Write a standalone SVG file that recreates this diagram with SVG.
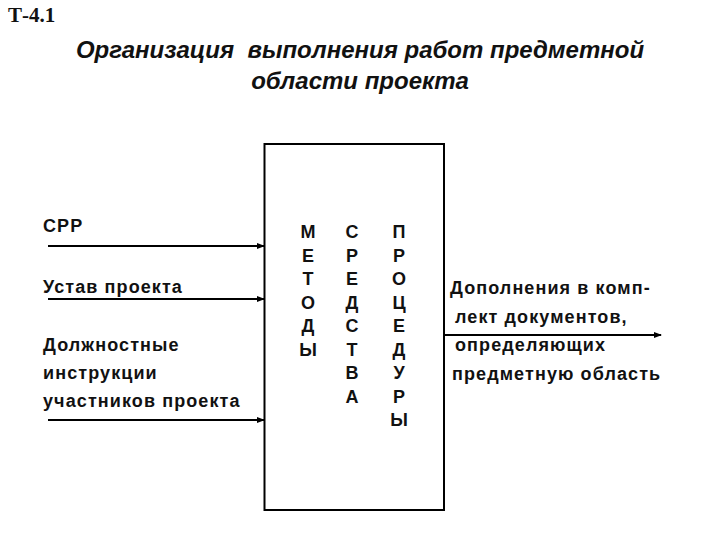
<svg xmlns="http://www.w3.org/2000/svg" width="720" height="540" viewBox="0 0 720 540">
<style>
.lbl{font-family:"Liberation Sans",Arial,sans-serif;font-size:18px;font-weight:bold;letter-spacing:1.1px;fill:#111}
.let{font-family:"Liberation Sans",Arial,sans-serif;font-size:18px;font-weight:bold;fill:#111;text-anchor:middle}
.title{font-family:"Liberation Sans",Arial,sans-serif;font-size:24px;font-weight:bold;font-style:italic;fill:#111;text-anchor:middle;white-space:pre}
.ln{stroke:#000;stroke-width:2;fill:none}
</style>
<defs>
<marker id="ah" markerWidth="8" markerHeight="6" refX="7" refY="3" orient="auto" markerUnits="userSpaceOnUse">
<path d="M0,0 L8,3 L0,6 Z" fill="#000"/>
</marker>
</defs>
<rect width="720" height="540" fill="#fff"/>
<text x="8" y="22" style="font-family:'Liberation Serif','Times New Roman',serif;font-size:21px;font-weight:bold;fill:#111">Т-4.1</text>
<text class="title" x="360" y="58" xml:space="preserve">Организация  выполнения работ предметной</text>
<text class="title" x="360" y="89">области проекта</text>
<g id="inputs-labels">
<text class="lbl" x="43" y="232">СРР</text>
<text class="lbl" x="43" y="293">Устав проекта</text>
<text class="lbl" x="43" y="351">Должностные</text>
<text class="lbl" x="43" y="379">инструкции</text>
<text class="lbl" x="43" y="407">участников проекта</text>
</g>
<g id="process">
<rect x="264.5" y="144" width="179.5" height="366" fill="#fff" stroke="#000" stroke-width="2"/>
<g id="col-metody">
<text class="let" x="308" y="238">М</text>
<text class="let" x="308" y="261.5">Е</text>
<text class="let" x="308" y="285">Т</text>
<text class="let" x="308" y="308.5">О</text>
<text class="let" x="308" y="332">Д</text>
<text class="let" x="308" y="355.5">Ы</text>
</g>
<g id="col-sredstva">
<text class="let" x="352" y="238">С</text>
<text class="let" x="352" y="261.5">Р</text>
<text class="let" x="352" y="285">Е</text>
<text class="let" x="352" y="308.5">Д</text>
<text class="let" x="352" y="332">С</text>
<text class="let" x="352" y="355.5">Т</text>
<text class="let" x="352" y="379">В</text>
<text class="let" x="352" y="402.5">А</text>
</g>
<g id="col-procedury">
<text class="let" x="399" y="238">П</text>
<text class="let" x="399" y="261.5">Р</text>
<text class="let" x="399" y="285">О</text>
<text class="let" x="399" y="308.5">Ц</text>
<text class="let" x="399" y="332">Е</text>
<text class="let" x="399" y="355.5">Д</text>
<text class="let" x="399" y="379">У</text>
<text class="let" x="399" y="402.5">Р</text>
<text class="let" x="399" y="426">Ы</text>
</g>
</g>
<g id="output-label">
<text class="lbl" x="450" y="294">Дополнения в комп-</text>
<text class="lbl" x="455" y="323">лект документов,</text>
<text class="lbl" x="455" y="351">определяющих</text>
<text class="lbl" x="452" y="380">предметную область</text>
</g>
<g id="connectors">
<line class="ln" x1="48" y1="246" x2="264" y2="246" marker-end="url(#ah)"/>
<line class="ln" x1="48" y1="299" x2="264" y2="299" marker-end="url(#ah)"/>
<line class="ln" x1="48" y1="420" x2="264" y2="420" marker-end="url(#ah)"/>
<line class="ln" x1="445" y1="335" x2="661" y2="335" marker-end="url(#ah)"/>
</g>
</svg>
